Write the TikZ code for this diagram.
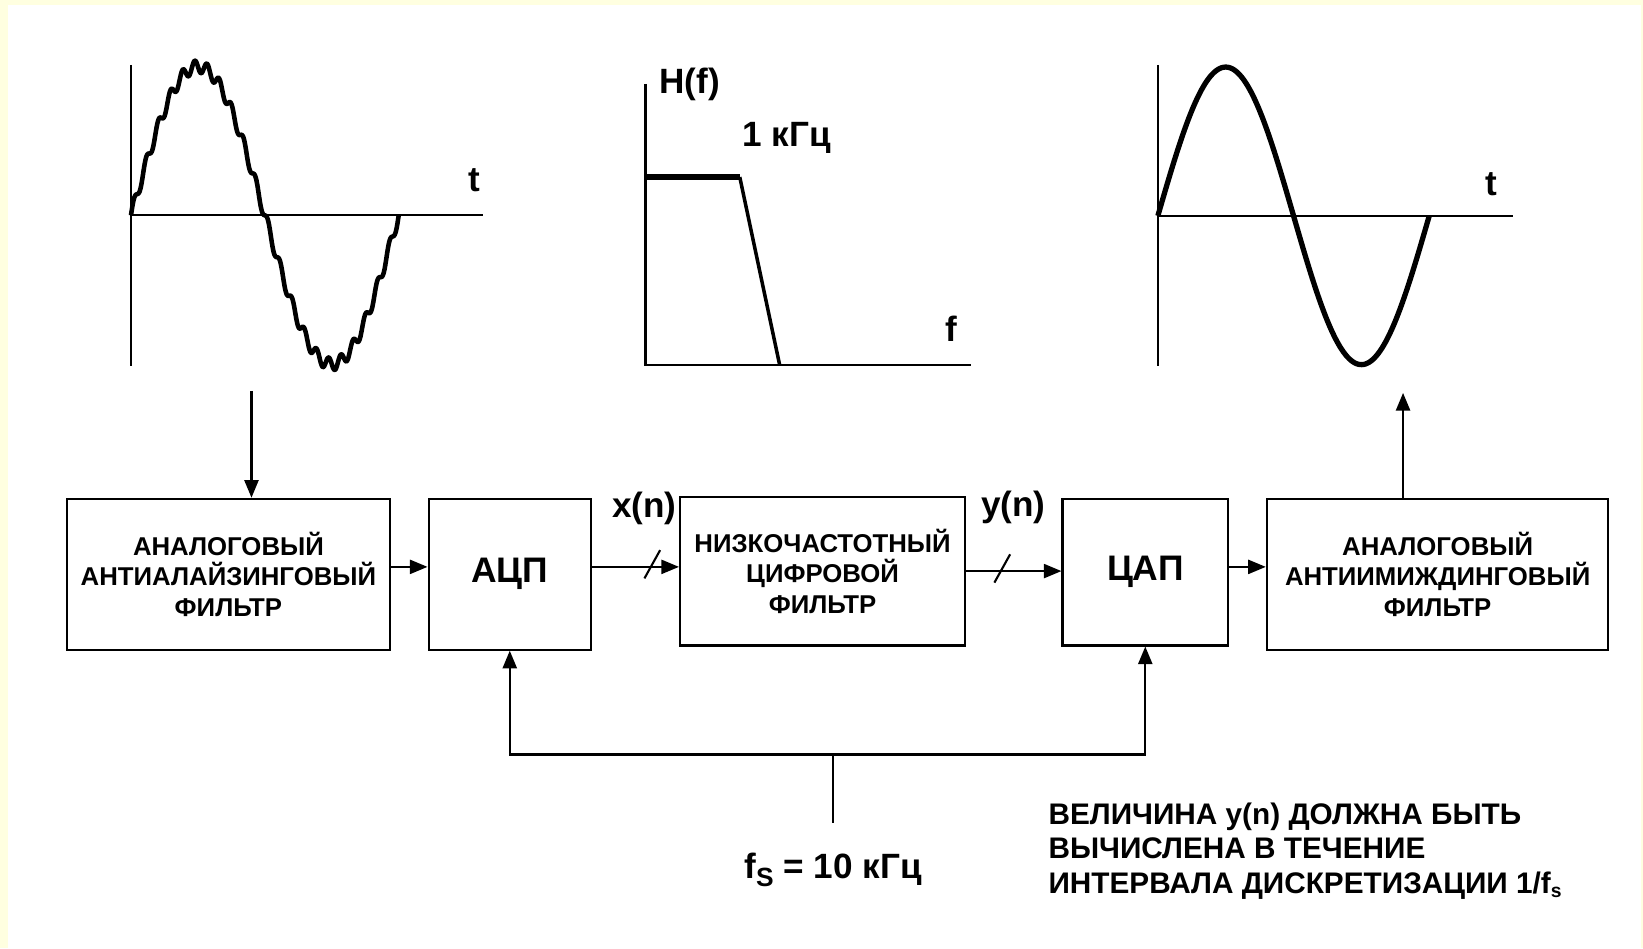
\documentclass[tikz,border=0pt]{standalone}
\usepackage{fontspec}
\setmainfont{Liberation Sans}
\usetikzlibrary{arrows.meta}
\definecolor{bgyellow}{RGB}{255,255,224}
\newcommand\pxu{0.010478cm}
\begin{document}
\begin{tikzpicture}[x=0.010478cm,y=-0.010478cm,
  blk/.style={draw, line width=0.6pt, inner sep=0pt, align=center},
  boxtxt/.style={font=\bfseries\fontsize{7.33}{8.65}\selectfont},
  bigtxt/.style={font=\bfseries\fontsize{10.1}{12}\selectfont},
  axis/.style={line width=0.6pt},
  conn/.style={line width=0.6pt},
  arr/.style={line width=0.6pt, -{Triangle[length=5pt,width=4pt]}},
  lbl/.style={inner sep=0pt, font=\bfseries\fontsize{10}{12}\selectfont}]
% background
\fill[bgyellow] (0,0) rectangle (1568,905);
\fill[white] (7.6,4.8) rectangle (1566.3,905);
\useasboundingbox (0,0) rectangle (1568,905);

% ---- graph 1: noisy sine
\coordinate (g1o) at (125,205.5);
\draw[axis] (125,62) -- (125,349);
\draw[axis] (g1o) -- (461,205.5);
\node[lbl] (g1t) at (453,172) {t};
\draw[line width=1.3pt, line join=round] plot[domain=0:360, samples=400, variable=\ang]
  ({125 + \ang*0.709722}, {205.5 - 142*sin(\ang) - 6*sin(22*\ang)});

% ---- graph 2: H(f)
\draw[axis] (616,80) -- (616,348) -- (927,348);
\node[lbl] (hf) at (658,81) {H(f)};
\node[lbl] (khz) at (751,132) {1 кГц};
\node[lbl] (ff) at (908,314) {f};
\coordinate (h1) at (616,169);
\coordinate (h2) at (706,169);
\coordinate (h3) at (744,348);
\draw[line width=1.5pt] (h1) -- (h2);
\draw[line width=1.0pt] (h2) -- (h3);

% ---- graph 3: clean sine
\draw[axis] (1105,62) -- (1105,349);
\draw[axis] (1105,206) -- (1444,206);
\node[lbl] (g3t) at (1423,176) {t};
\draw[line width=1.5pt] plot[domain=0:360, samples=150, variable=\ang]
  ({1105 + \ang*0.719444}, {206 - 142*sin(\ang)});

% ---- blocks
\node[blk, boxtxt, minimum width=308*\pxu, minimum height=144*\pxu] (b1) at (218,548)
  {АНАЛОГОВЫЙ\\АНТИАЛАЙЗИНГОВЫЙ\\ФИЛЬТР};
\node[blk, bigtxt, minimum width=155*\pxu, minimum height=144*\pxu] (b2) at (486.5,548) {АЦП};
\node[blk, boxtxt, minimum width=272*\pxu, minimum height=142*\pxu] (b3) at (785,545)
  {НИЗКОЧАСТОТНЫЙ\\ЦИФРОВОЙ\\ФИЛЬТР};
\node[blk, bigtxt, minimum width=158*\pxu, minimum height=140*\pxu] (b4) at (1093,546) {ЦАП};
\node[blk, boxtxt, minimum width=326*\pxu, minimum height=144*\pxu] (b5) at (1372,548)
  {АНАЛОГОВЫЙ\\АНТИИМИЖДИНГОВЫЙ\\ФИЛЬТР};

% ---- connectors between blocks
\coordinate (r1) at (0,541);
\coordinate (r2) at (0,545);
\draw[arr] (b1.east |- r1) -- (b2.west |- r1);
\draw[arr] (b2.east |- r1) -- (b3.west |- r1);
\draw[arr] (b3.east |- r2) -- (b4.west |- r2);
\draw[arr] (b4.east |- r1) -- (b5.west |- r1);
% bus slashes
\coordinate (s1a) at (615,552);
\coordinate (s1b) at (630,525);
\draw[conn] (s1a) -- (s1b);
\coordinate (s2a) at (949,556);
\coordinate (s2b) at (964,529);
\draw[conn] (s2a) -- (s2b);
\node[lbl] (xn) at (615,485) {x(n)};
\node[lbl] (yn) at (967,484) {y(n)};

% ---- arrows to/from graphs
\coordinate (g1b) at (240,373);
\draw[arr] (g1b) -- (g1b |- b1.north);
\coordinate (g3b) at (1339,375);
\draw[arr] (g3b |- b5.north) -- (g3b);

% ---- clock feedback
\coordinate (fs) at (795,785);
\coordinate (bus) at (795,720);
\draw[conn] (fs) -- (bus);
\draw[arr] (bus) -| (b2.south);
\draw[arr] (bus) -| (b4.south);
\node[lbl] (fstxt) at (795,830) {f\raisebox{-0.45ex}{\fontsize{7.5}{8}\selectfont S} = 10 кГц};

% ---- note
\node[anchor=west, align=left, inner sep=0pt, font=\bfseries\fontsize{8.47}{9.84}\selectfont] (note) at (1000,812)
  {ВЕЛИЧИНА y(n) ДОЛЖНА БЫТЬ\\ВЫЧИСЛЕНА В ТЕЧЕНИЕ\\ИНТЕРВАЛА ДИСКРЕТИЗАЦИИ 1/f\raisebox{-0.3ex}{\fontsize{5.5}{6}\selectfont s}};
\end{tikzpicture}
\end{document}
